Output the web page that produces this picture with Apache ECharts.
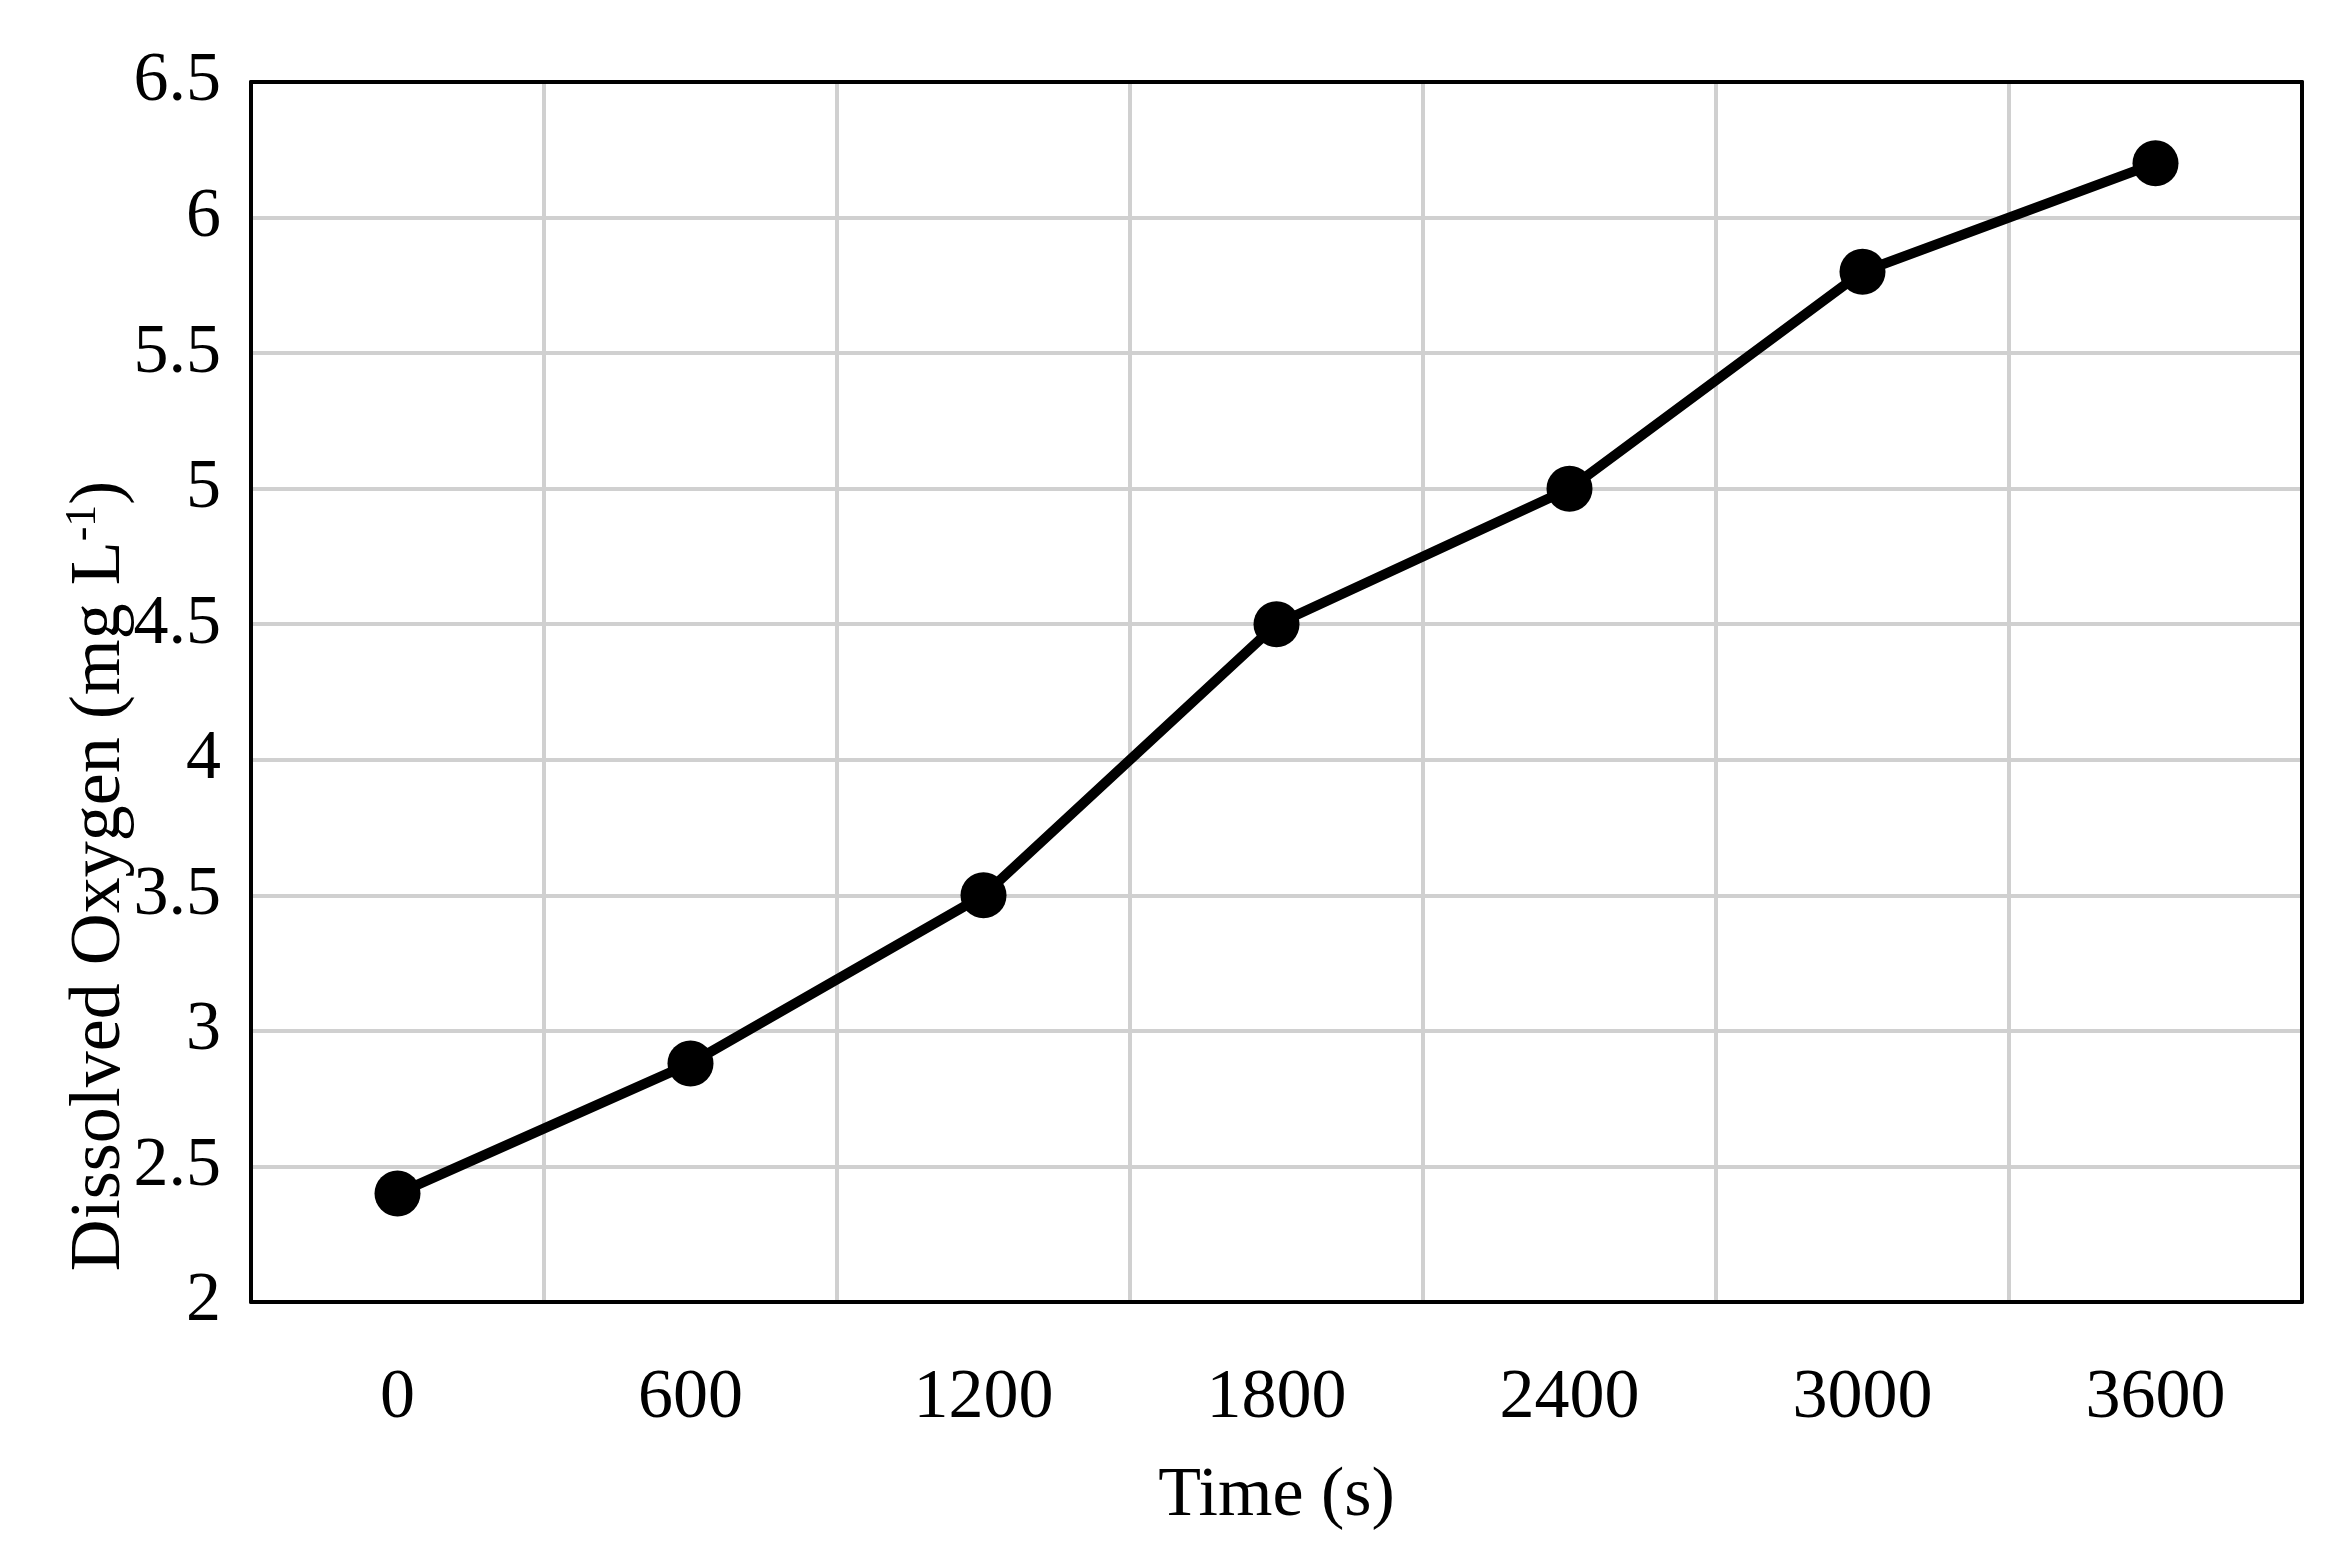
<!DOCTYPE html>
<html>
<head>
<meta charset="utf-8">
<script src="https://cdn.jsdelivr.net/npm/echarts@6/dist/echarts.min.js"></script>
<style>html,body{margin:0;padding:0;background:#fff}#chart{width:2335px;height:1550px}</style>
</head>
<body>
<div id="chart"></div>
<script>
var times = ['0', '600', '1200', '1800', '2400', '3000', '3600'];
var oxygen = [2.4, 2.88, 3.5, 4.5, 5.0, 5.8, 6.2];

var font = '"Liberation Serif", "DejaVu Serif", serif';
var chart = echarts.init(document.getElementById('chart'));
chart.setOption({
  backgroundColor: '#fff',
  animation: false,
  grid: {left: 251, right: 33, top: 82, bottom: 248},
  xAxis: [{
    type: 'category',
    data: times,
    boundaryGap: true,
    name: 'Time (s)',
    nameLocation: 'middle',
    nameGap: 160,
    nameTextStyle: {fontFamily: font, fontSize: 70, color: '#000'},
    axisLine: {lineStyle: {color: '#000', width: 4}},
    axisTick: {show: false},
    axisLabel: {fontFamily: font, fontSize: 70, color: '#000', margin: 62},
    splitLine: {show: true, lineStyle: {color: '#d0d0d0', width: 4}}
  }, {
    type: 'category', data: times, position: 'top',
    axisLine: {lineStyle: {color: '#000', width: 4}},
    axisTick: {show: false}, axisLabel: {show: false}
  }],
  yAxis: [{
    type: 'value',
    min: 2, max: 6.5, interval: 0.5,
    axisLine: {show: true, lineStyle: {color: '#000', width: 4}},
    axisTick: {show: false},
    axisLabel: {fontFamily: font, fontSize: 70, color: '#000', margin: 30},
    splitLine: {lineStyle: {color: '#d0d0d0', width: 4}}
  }, {
    type: 'value', position: 'right',
    min: 2, max: 6.5, interval: 0.5,
    axisLine: {show: true, lineStyle: {color: '#000', width: 4}},
    axisTick: {show: false}, axisLabel: {show: false}, splitLine: {show: false}
  }],
  graphic: [{
    type: 'text',
    x: 100, y: 876,
    rotation: Math.PI / 2,
    style: {
      text: '{a|Dissolved Oxygen (mg L}{s|-1}{a|)}',
      rich: {
        a: {fontFamily: font, fontSize: 72, fill: '#000'},
        s: {fontFamily: font, fontSize: 44, fill: '#000', verticalAlign: 'top', padding: [0, 0, 34, 0]}
      },
      align: 'center', verticalAlign: 'middle'
    }
  }],
  series: [{
    type: 'line',
    data: oxygen,
    symbol: 'circle',
    symbolSize: 46,
    itemStyle: {color: '#000'},
    lineStyle: {color: '#000', width: 10}
  }]
});
</script>
</body>
</html>
